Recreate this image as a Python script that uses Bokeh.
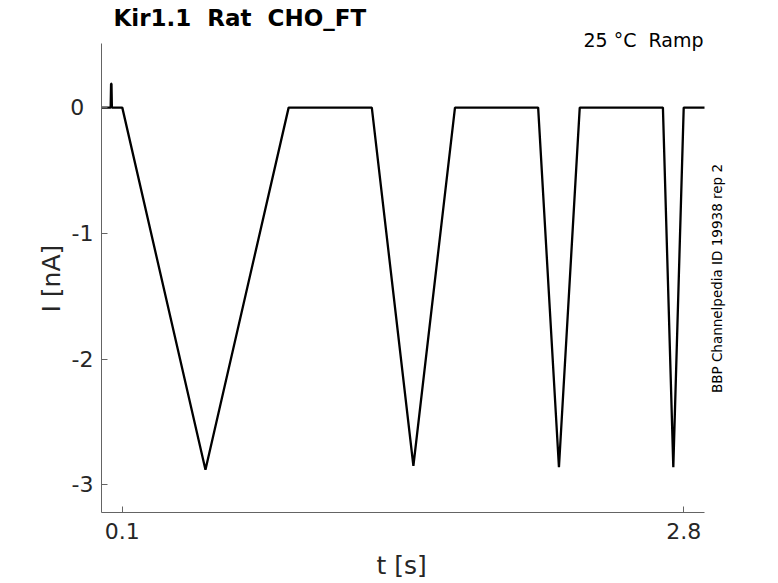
from bokeh.plotting import figure
from bokeh.models import FixedTicker, Label, Range1d, Title
from bokeh.embed import file_html
from bokeh.resources import INLINE

# Trace vertices (t in s, I in nA)
t_s = [0.0, 0.044, 0.046, 0.048, 0.05, 0.10, 0.50, 0.90, 1.30, 1.50, 1.70,
       2.10, 2.20, 2.30, 2.70, 2.75, 2.80, 2.90]
i_nA = [0.0, 0.0, 0.19, 0.19, 0.0, 0.0, -2.88, 0.0, 0.0, -2.85, 0.0,
        0.0, -2.86, 0.0, 0.0, -2.86, 0.0, 0.0]

x_ticks = [0.1, 2.8]
y_ticks = [0, -1, -2, -3]
y_tick_labels = {0: "0\u2008\u200a", -1: "-1", -2: "-2", -3: "-3"}
x_tick_labels = {0.1: "0.1", 2.8: "2.8"}

title_text = "Kir1.1\u00a0\u00a0Rat\u00a0\u00a0CHO_FT"
cond_text = "25 \u00b0C\u00a0\u00a0Ramp"
side_text = "BBP Channelpedia ID 19938 rep 2"
x_label = "t [s]"
y_label = "I [nA]"

FONT = "DejaVu Sans"
AX = "#646464"
TXT = "#262626"

# visible axes box: x 0..2.9 over 603 px, y -3.22..0.51 over 469 px
X0, X1, AXW = 0.0, 2.9, 603
Y0, Y1, AXH = -3.22, 0.51, 469
# the frame is enlarged up and right so that the annotation texts are not clipped
FW, FH = 639, 512
x_end = X0 + (X1 - X0) * FW / AXW
y_end = Y0 + (Y1 - Y0) * FH / AXH

p = figure(width=770, height=583, output_backend="svg", toolbar_location=None,
           x_range=Range1d(X0, x_end), y_range=Range1d(Y0, y_end),
           min_border_left=101, min_border_top=0, min_border_right=30,
           min_border_bottom=71)
p.frame_width = FW
p.frame_height = FH
p.outline_line_color = None
p.xgrid.visible = False
p.ygrid.visible = False
p.background_fill_color = "white"
p.border_fill_color = "white"

p.line(t_s, i_nA, line_color="black", line_width=2.3)

for ax in (p.xaxis[0], p.yaxis[0]):
    ax.axis_line_color = AX
    ax.axis_line_width = 1
    ax.major_tick_line_color = AX
    ax.major_tick_in = 6
    ax.major_tick_out = 0
    ax.minor_tick_line_color = None
    ax.major_label_text_font = FONT
    ax.major_label_text_font_size = "22px"
    ax.major_label_text_color = TXT

p.xaxis.bounds = (X0, X1)
p.xaxis.ticker = FixedTicker(ticks=x_ticks)
p.xaxis.major_label_overrides = x_tick_labels
p.xaxis.major_label_standoff = 10

p.yaxis.bounds = (Y0, Y1)
p.yaxis.ticker = FixedTicker(ticks=y_ticks)
p.yaxis.major_label_overrides = y_tick_labels
p.yaxis.major_label_standoff = 8

# axis titles, placed along the visible axes box
p.add_layout(Title(text=x_label, align="left", offset=275,
                   text_font=FONT, text_font_size="25px",
                   text_font_style="normal", text_color=TXT, standoff=15),
             "below")
p.add_layout(Title(text=y_label, align="left", offset=200,
                   text_font=FONT, text_font_size="25px",
                   text_font_style="normal", text_color=TXT, standoff=4),
             "left")

p.add_layout(Label(x=113, y=17.7, x_units="canvas", y_units="canvas",
                   text=title_text, text_font=FONT, text_font_size="23px",
                   text_font_style="bold", text_color="black",
                   text_baseline="alphabetic", text_align="left"))
p.add_layout(Label(x=703, y=39.7, x_units="canvas", y_units="canvas",
                   text=cond_text, text_font=FONT, text_font_size="19px",
                   text_color="black", text_baseline="alphabetic",
                   text_align="right"))
p.add_layout(Label(x=716, y=278, x_units="canvas", y_units="canvas",
                   text=side_text, text_font=FONT, text_font_size="13.5px",
                   text_color="black", text_baseline="middle",
                   text_align="center", angle=90, angle_units="deg"))

open("out.html", "w").write(file_html(p, INLINE))
